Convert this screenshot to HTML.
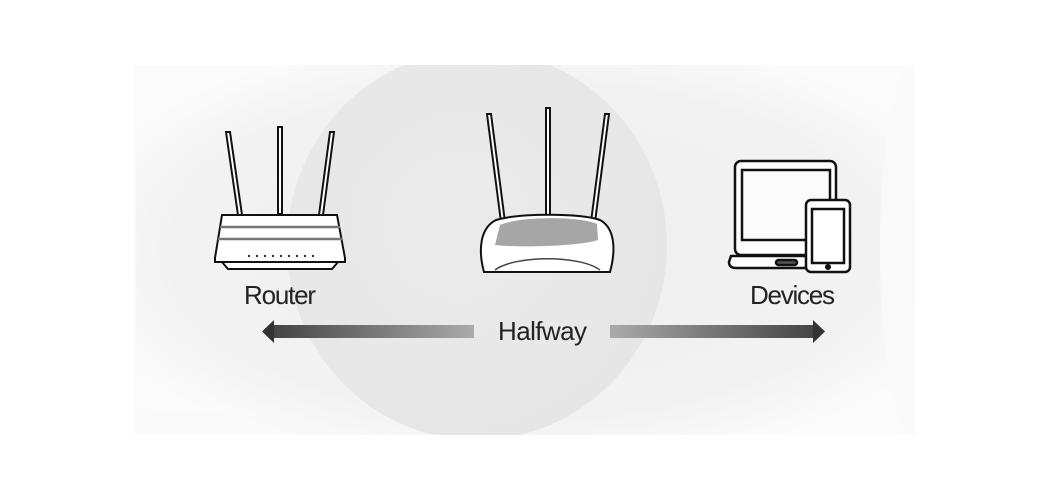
<!DOCTYPE html>
<html><head><meta charset="utf-8"><style>
html,body{margin:0;padding:0;background:#fff;width:1050px;height:500px;overflow:hidden}
svg{display:block;position:absolute;left:0;top:0}
text{font-family:"Liberation Sans Narrow","Liberation Sans",sans-serif;fill:#222}
</style></head><body>
<svg width="1050" height="500" viewBox="0 0 1050 500">
<defs>
<radialGradient id="bg" cx="0.5" cy="0.5" r="0.6">
<stop offset="0" stop-color="#efefef"/><stop offset="0.75" stop-color="#f2f2f2"/><stop offset="1" stop-color="#fbfbfb"/>
</radialGradient>
<radialGradient id="circ" cx="0.45" cy="0.45" r="0.6">
<stop offset="0" stop-color="#ebebeb"/><stop offset="1" stop-color="#e6e6e6"/>
</radialGradient>
<linearGradient id="al" x1="0" x2="1"><stop offset="0" stop-color="#444"/><stop offset="1" stop-color="#aaa"/></linearGradient>
<linearGradient id="ar" x1="0" x2="1"><stop offset="0" stop-color="#aaa"/><stop offset="1" stop-color="#444"/></linearGradient>
<clipPath id="pc"><rect x="135" y="65" width="780" height="370"/></clipPath>
</defs>
<rect x="135" y="65" width="780" height="370" fill="url(#bg)"/>
<g clip-path="url(#pc)">
<ellipse cx="477" cy="245" rx="190" ry="195" fill="url(#circ)"/>
<ellipse cx="140" cy="470" rx="250" ry="60" fill="#f8f8f8" opacity="0.7"/>
<ellipse cx="920" cy="250" rx="40" ry="200" fill="#fafafa" opacity="0.8"/>
</g>
<!-- Router -->
<g stroke="#111" stroke-width="2" fill="#fff">
<path d="M226 132 l4 0 l12 83 l-4 0 z"/>
<path d="M278 127 l4 0 l0 87 l-4 0 z"/>
<path d="M330 132 l4 0 l-11 83 l-4 0 z"/>
<path d="M222 215 L337 215 L345 258 L345 262 L215 262 L215 258 Z"/>
<path d="M222 262 L338 262 L332 269 L228 269 Z"/>
</g>
<g stroke="#777" stroke-width="2.5">
<line x1="220" y1="227" x2="340" y2="227"/><line x1="218" y1="239" x2="342" y2="239"/>
</g>
<g stroke="#333" stroke-width="2" stroke-dasharray="2 6"><line x1="248" y1="256" x2="314" y2="256"/></g>
<text x="244" y="304" font-size="26" textLength="72">Router</text>
<!-- Center router -->
<g stroke="#111" stroke-width="2" fill="#fff">
<path d="M487 114 l4 0 l14 108 l-4 0 z"/>
<path d="M546 108 l4 0 l0 112 l-4 0 z"/>
<path d="M605 114 l4 0 l-14 108 l-4 0 z"/>
<path d="M484 272 C478 250 480 228 496 220 C520 213 580 213 600 220 C615 228 616 250 610 272 Z"/>
</g>
<path d="M500 225 C520 216 580 216 597 224 L598 240 C580 246 520 248 495 245 Z" fill="#888" opacity="0.75"/>
<path d="M495 270 C515 255 580 255 600 270" stroke="#444" stroke-width="1.5" fill="none"/>
<!-- Laptop -->
<g stroke="#111" stroke-width="2.5" fill="#fff">
<rect x="735" y="161" width="101" height="94" rx="6"/>
<rect x="742" y="170" width="88" height="70" fill="#fbfbfb"/>
<path d="M731 256 L808 256 L808 268 L736 268 Q729 268 729 262 Z"/>
<rect x="776" y="260" width="21" height="5" rx="2.5" fill="#555"/>
<rect x="806" y="200" width="44" height="72" rx="5"/>
<rect x="812" y="209" width="32" height="54"/>
<circle cx="828" cy="267" r="1.8" fill="#111"/>
</g>
<text x="750" y="304" font-size="26" textLength="85">Devices</text>
<!-- Arrows -->
<rect x="272" y="325" width="202" height="13" fill="url(#al)"/>
<path d="M274 320 L262 331.5 L274 343 Z" fill="#333"/>
<rect x="610" y="325" width="205" height="13" fill="url(#ar)"/>
<path d="M813 320 L825 331.5 L813 343 Z" fill="#333"/>
<text x="498" y="340" font-size="26" textLength="89">Halfway</text>
</svg>
</body></html>
